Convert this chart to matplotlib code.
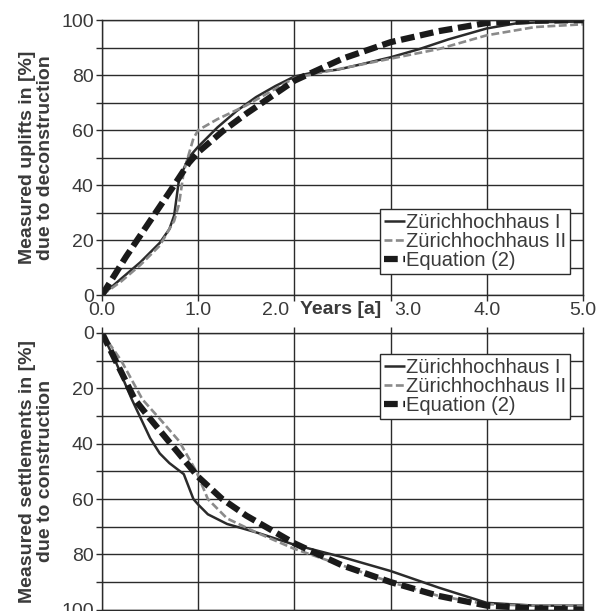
import matplotlib
matplotlib.use('Agg')
import matplotlib.pyplot as plt
from matplotlib.transforms import ScaledTranslation

plt.rcParams['font.family'] = ['Liberation Sans', 'DejaVu Sans']

# Hebungen infolge Rückbau (oben)
x_up_1 = [0.0, 0.2, 0.4, 0.6, 0.7, 0.75, 0.8, 0.9, 1.0, 1.2, 1.4, 1.6, 1.8, 2.0, 2.2, 2.45, 2.7, 3.0, 3.3, 3.6, 4.0, 4.3, 4.6, 5.0]
y_up_1 = [0.0, 6.0, 12.0, 19.0, 24.0, 29.0, 42.0, 50.0, 54.0, 61.0, 67.0, 72.0, 76.0, 79.5, 81.0, 82.0, 84.0, 86.5, 89.5, 93.0, 97.0, 98.8, 99.3, 99.5]
x_up_2 = [0.0, 0.2, 0.4, 0.6, 0.75, 0.8, 0.85, 0.95, 1.0, 1.2, 1.5, 2.0, 2.5, 3.0, 3.5, 4.0, 4.5, 5.0]
y_up_2 = [0.0, 5.0, 11.0, 18.0, 27.0, 33.0, 45.0, 57.0, 60.0, 64.0, 69.0, 79.0, 82.5, 86.0, 89.5, 94.5, 97.5, 98.5]
x_up_eq = [0.0, 0.25, 0.5, 0.75, 0.9, 1.0, 1.25, 1.5, 2.0, 2.5, 3.0, 3.5, 4.0, 4.5, 5.0]
y_up_eq = [0.0, 14.0, 27.0, 40.0, 48.0, 52.0, 59.5, 66.0, 78.0, 86.0, 92.0, 96.0, 99.0, 99.8, 100.0]

# Setzungen infolge Bau (unten)
x_dn_1 = [0.0, 0.15, 0.31, 0.5, 0.6, 0.7, 0.85, 0.95, 1.0, 1.1, 1.3, 1.6, 2.0, 2.5, 3.0, 3.5, 4.0, 4.5, 5.0]
y_dn_1 = [0.0, 11.0, 24.0, 38.0, 43.5, 47.0, 51.0, 60.0, 62.0, 65.5, 69.0, 72.0, 76.5, 81.0, 86.0, 92.0, 97.5, 98.5, 98.5]
x_dn_2 = [0.0, 0.2, 0.42, 0.6, 0.8, 0.98, 1.1, 1.3, 1.6, 2.0, 2.5, 3.0, 3.5, 4.0, 4.5, 5.0]
y_dn_2 = [0.0, 10.0, 24.0, 31.0, 39.0, 50.0, 60.0, 67.0, 72.0, 78.0, 84.0, 90.0, 95.0, 98.0, 98.5, 98.5]
x_dn_eq = [0.0, 0.17, 0.34, 0.5, 0.69, 1.0, 1.25, 1.5, 2.0, 2.5, 3.0, 3.5, 4.0, 4.5, 5.0]
y_dn_eq = [0.0, 12.0, 24.0, 31.0, 39.0, 52.0, 60.0, 66.0, 76.0, 84.0, 90.0, 95.0, 98.5, 99.5, 100.0]

labels = ['Zürichhochhaus I', 'Zürichhochhaus II', 'Equation (2)']
x_ticks = [0.0, 1.0, 2.0, 3.0, 4.0, 5.0]
y_ticks = [0, 20, 40, 60, 80, 100]

dunkel = '#2b2b2b'
grau = '#8a8a8a'
text_farbe = '#3a3a3a'

fig = plt.figure(figsize=(5.98, 6.11), dpi=100)
ax1 = fig.add_axes([0.1706, 0.517, 0.8044, 0.450])
ax2 = fig.add_axes([0.1706, 0.002, 0.8044, 0.453])


def achsen_stil(ax):
    ax.set_xlim(0, 5)
    ax.set_xticks(x_ticks)
    ax.set_yticks(y_ticks)
    ax.set_yticks(range(10, 100, 20), minor=True)
    ax.grid(True, which='both', color=dunkel, lw=1.0)
    ax.set_axisbelow(True)
    for s in ax.spines.values():
        s.set_color(dunkel)
        s.set_linewidth(1.0)
    ax.tick_params(which='both', direction='out', length=4, color=dunkel,
                   labelsize=14, labelcolor=text_farbe, width=1.0)
    ax.tick_params(axis='y', pad=2)


def kurven(ax, x1, y1, x2, y2, xe, ye):
    ax.plot(x1, y1, color=dunkel, lw=1.8, label=labels[0], solid_capstyle='butt')
    ax.plot(x2, y2, color=grau, lw=1.9, dashes=(3, 1.3), label=labels[1])
    ax.plot(xe, ye, color='#1a1a1a', lw=4.5, dashes=(2.2, 0.9), label=labels[2])


def legende(ax, **kw):
    leg = ax.legend(fontsize=14.5, frameon=True, fancybox=False, framealpha=1,
                    edgecolor=dunkel, handlelength=1.05, handletextpad=0.05,
                    labelspacing=0.0, borderpad=0.2, borderaxespad=0, **kw)
    leg.get_frame().set_linewidth(1.0)
    for t in leg.get_texts():
        t.set_color(text_farbe)


def ylabel(ax, text):
    ax.set_ylabel(text, fontsize=14, fontweight='bold', color=text_farbe,
                  linespacing=1.05)
    ax.yaxis.set_label_coords(-0.10, 0.5)


# oben
achsen_stil(ax1)
kurven(ax1, x_up_1, y_up_1, x_up_2, y_up_2, x_up_eq, y_up_eq)
ax1.set_ylim(0, 100)
ax1.set_xticklabels([f'{v:.1f}' for v in x_ticks])
ax1.tick_params(axis='x', pad=1)
ylabel(ax1, 'Measured uplifts in [%]\ndue to deconstruction')
legende(ax1, loc='lower right', bbox_to_anchor=(0.973, 0.076))
ax1.text(2.48, -0.02, 'Years [a]', transform=ax1.get_xaxis_transform(),
         ha='center', va='top', fontsize=14, fontweight='bold', color=text_farbe)

# 2.0 und 3.0 machen Platz für "Years [a]"
tl = ax1.get_xticklabels()
tl[2].set_transform(tl[2].get_transform() + ScaledTranslation(-0.19, 0, fig.dpi_scale_trans))
tl[3].set_transform(tl[3].get_transform() + ScaledTranslation(0.17, 0, fig.dpi_scale_trans))

# unten
achsen_stil(ax2)
kurven(ax2, x_dn_1, y_dn_1, x_dn_2, y_dn_2, x_dn_eq, y_dn_eq)
ax2.set_ylim(100, 0)
ax2.tick_params(axis='x', which='both', top=True, bottom=False,
                labeltop=False, labelbottom=False)
ylabel(ax2, 'Measured settlements in [%]\ndue to construction')
legende(ax2, loc='upper right', bbox_to_anchor=(0.973, 0.924))

fig.savefig('out.png', dpi=100, facecolor='white')
